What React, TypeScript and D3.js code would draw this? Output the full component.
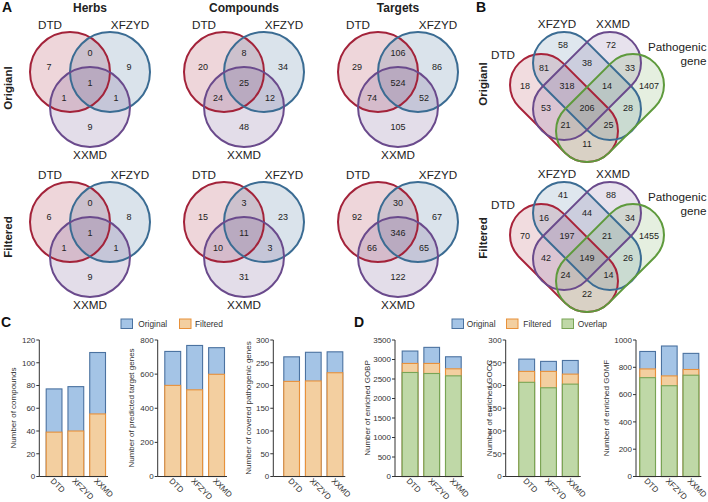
import React from "react";
import * as d3 from "d3";

const FONT = "'Liberation Sans', Arial, Helvetica, sans-serif";

// ---------- DATA ----------
const setNames3 = ["DTD", "XFZYD", "XXMD"];
const panelTitles = ["Herbs", "Compounds", "Targets"];
const rowLabels = ["Origianl", "Filtered"];
// region order: DTD only, DTD∩XFZYD, XFZYD only, all three, DTD∩XXMD, XFZYD∩XXMD, XXMD only
const herbsOriginal = [7, 0, 9, 1, 1, 1, 9];
const herbsFiltered = [6, 0, 8, 1, 1, 1, 9];
const compoundsOriginal = [20, 8, 34, 25, 24, 12, 48];
const compoundsFiltered = [15, 3, 23, 11, 10, 3, 31];
const targetsOriginal = [29, 106, 86, 524, 74, 52, 105];
const targetsFiltered = [92, 30, 67, 346, 66, 65, 122];

const setNames4 = ["DTD", "XFZYD", "XXMD", "Pathogenic gene"];
// region order: A, B, C, D, AB, BC, CD, ABC, BCD, AC, ABCD, BD, ACD, ABD, AD
const quadOriginal = [18, 58, 72, 1407, 81, 38, 33, 318, 14, 53, 206, 28, 21, 25, 11];
const quadFiltered = [70, 41, 88, 1455, 16, 44, 34, 197, 21, 42, 149, 26, 24, 14, 22];

const categories = ["DTD", "XFZYD", "XXMD"];
const compoundsOrig = [77, 79, 109];
const compoundsFilt = [39, 40, 55];
const targetGenesOrig = [733, 768, 755];
const targetGenesFilt = [534, 508, 599];
const pathoOrig = [263, 273, 274];
const pathoFilt = [209, 210, 228];
const gobpOrig = [3217, 3311, 3070];
const gobpFilt = [2899, 2899, 2761];
const gobpOverlap = [2667, 2641, 2581];
const goccOrig = [258, 253, 255];
const goccFilt = [231, 231, 225];
const goccOverlap = [207, 195, 203];
const gomfOrig = [916, 956, 902];
const gomfFilt = [788, 737, 784];
const gomfOverlap = [724, 665, 742];
const legendC = ["Original", "Filtered"];
const legendD = ["Original", "Filtered", "Overlap"];

// ---------- STYLE ----------
const vennStroke3 = ["#a3233a", "#3b6c93", "#6a4a8c"];
const vennStroke4 = ["#a8233a", "#3b6c93", "#6a4a8c", "#5e9a3c"];
const barStyle: Record<string, { fill: string; stroke: string }> = {
  Original: { fill: "#a4c4e6", stroke: "#4b72a0" },
  Filtered: { fill: "#f3cfa0", stroke: "#e8913a" },
  Overlap: { fill: "#bfd8a7", stroke: "#78a455" },
};
const TXT = "#222";

// ---------- 3-SET VENN ----------
const circleOffsets = [
  [-20, 0],
  [20, 0],
  [0, 35],
];
const regionOffsets3 = [
  [-41, -5],
  [0, -19],
  [39, -5],
  [0, 11],
  [-26, 26],
  [26, 26],
  [0, 55],
];

function Venn3({ cx, cy, values }: { cx: number; cy: number; values: number[] }) {
  return (
    <g>
      {circleOffsets.map((o, i) => (
        <circle
          key={"f" + i}
          cx={cx + o[0]}
          cy={cy + o[1]}
          r={40}
          fill={vennStroke3[i]}
          fillOpacity={0.19}
          stroke="none"
        />
      ))}
      {circleOffsets.map((o, i) => (
        <circle
          key={"s" + i}
          cx={cx + o[0]}
          cy={cy + o[1]}
          r={40}
          fill="none"
          stroke={vennStroke3[i]}
          strokeWidth={2}
        />
      ))}
      {values.map((v, i) => (
        <text
          key={"v" + i}
          x={cx + regionOffsets3[i][0]}
          y={cy + regionOffsets3[i][1]}
          dy="0.35em"
          textAnchor="middle"
          fontSize={9}
          fill={TXT}
        >
          {v}
        </text>
      ))}
      <text x={cx - 40} y={cy - 42.7} textAnchor="middle" fontSize={11.7} fill={TXT}>
        {setNames3[0]}
      </text>
      <text x={cx + 40} y={cy - 42.7} textAnchor="middle" fontSize={11.7} fill={TXT}>
        {setNames3[1]}
      </text>
      <text x={cx} y={cy + 87.3} textAnchor="middle" fontSize={11.7} fill={TXT}>
        {setNames3[2]}
      </text>
    </g>
  );
}

// ---------- 4-SET VENN (capsule shapes) ----------
const CAP_R = 31;
const CAP_L = 127;
const shapes4 = [
  { dx: -23, dy: 8, rot: 45 },
  { dx: 0, dy: -14, rot: 45 },
  { dx: 0, dy: -14, rot: -45 },
  { dx: 23, dy: 8, rot: -45 },
];
const regionOffsets4 = [
  [-62, -14],
  [-24, -55],
  [24, -55],
  [62, -14],
  [-43, -32],
  [0, -37],
  [43, -32],
  [-20, -14],
  [20, -14],
  [-41, 8],
  [0, 8],
  [41, 8],
  [-21.5, 25],
  [21.5, 25],
  [0, 44],
];

function Venn4({ cx, cy, values }: { cx: number; cy: number; values: number[] }) {
  return (
    <g>
      {shapes4.map((e, i) => {
        const x0 = cx + e.dx;
        const y0 = cy + e.dy;
        return (
          <rect
            key={"f" + i}
            x={x0 - CAP_L / 2}
            y={y0 - CAP_R}
            width={CAP_L}
            height={CAP_R * 2}
            rx={CAP_R}
            ry={CAP_R}
            transform={`rotate(${e.rot} ${x0} ${y0})`}
            fill={vennStroke4[i]}
            fillOpacity={0.16}
          />
        );
      })}
      {shapes4.map((e, i) => {
        const x0 = cx + e.dx;
        const y0 = cy + e.dy;
        return (
          <rect
            key={"s" + i}
            x={x0 - CAP_L / 2}
            y={y0 - CAP_R}
            width={CAP_L}
            height={CAP_R * 2}
            rx={CAP_R}
            ry={CAP_R}
            transform={`rotate(${e.rot} ${x0} ${y0})`}
            fill="none"
            stroke={vennStroke4[i]}
            strokeWidth={2}
          />
        );
      })}
      {values.map((v, i) => (
        <text
          key={"v" + i}
          x={cx + regionOffsets4[i][0]}
          y={cy + regionOffsets4[i][1]}
          dy="0.35em"
          textAnchor="middle"
          fontSize={9}
          fill={TXT}
        >
          {v}
        </text>
      ))}
      <text x={cx - 84} y={cy - 40.7} textAnchor="middle" fontSize={11.7} fill={TXT}>
        {setNames4[0]}
      </text>
      <text x={cx - 30} y={cy - 71.7} textAnchor="middle" fontSize={11.7} fill={TXT}>
        {setNames4[1]}
      </text>
      <text x={cx + 26} y={cy - 71.7} textAnchor="middle" fontSize={11.7} fill={TXT}>
        {setNames4[2]}
      </text>
      <text x={cx + 119.5} y={cy - 49} textAnchor="end" fontSize={11.7} fill={TXT}>
        {setNames4[3].split(" ")[0]}
      </text>
      <text x={cx + 119.5} y={cy - 35.5} textAnchor="end" fontSize={11.7} fill={TXT}>
        {setNames4[3].split(" ")[1]}
      </text>
    </g>
  );
}

// ---------- BAR CHARTS ----------
const PLOT_TOP = 340;
const PLOT_BOTTOM = 476.5;

type Series = { name: string; values: number[] };

function BarChart({
  axisX,
  barStart,
  barEnd,
  yMax,
  step,
  title,
  titleX,
  series,
}: {
  axisX: number;
  barStart: number;
  barEnd: number;
  yMax: number;
  step: number;
  title: string;
  titleX: number;
  series: Series[];
}) {
  const y = d3.scaleLinear().domain([0, yMax]).range([PLOT_BOTTOM, PLOT_TOP]);
  const x = d3.scaleBand<string>().domain(categories).range([barStart, barEnd]).paddingInner(0.23).paddingOuter(0);
  const ticks = d3.range(0, yMax + step / 2, step);
  const bw = x.bandwidth();
  return (
    <g fontFamily={FONT}>
      {series.map((s) =>
        s.values.map((v, i) => (
          <rect
            key={s.name + i}
            x={(x(categories[i]) as number) + 0.5}
            y={y(v)}
            width={bw - 1}
            height={PLOT_BOTTOM - y(v)}
            fill={barStyle[s.name].fill}
            stroke={barStyle[s.name].stroke}
            strokeWidth={1.1}
          />
        ))
      )}
      <line x1={axisX} x2={axisX} y1={PLOT_BOTTOM} y2={PLOT_TOP} stroke="#333" strokeWidth={1} />
      <line x1={axisX} x2={barEnd + 2} y1={PLOT_BOTTOM} y2={PLOT_BOTTOM} stroke="#333" strokeWidth={1} />
      {ticks.map((t) => (
        <g key={t}>
          <line x1={axisX - 3} x2={axisX} y1={y(t)} y2={y(t)} stroke="#333" strokeWidth={1} />
          <text x={axisX - 4} y={y(t)} dy="0.35em" textAnchor="end" fontSize={8} fill="#333">
            {t}
          </text>
        </g>
      ))}
      {categories.map((c) => {
        const cx = (x(c) as number) + bw / 2 - 4;
        const cy = PLOT_BOTTOM + 5;
        return (
          <text key={c} x={cx} y={cy} transform={`rotate(45 ${cx} ${cy})`} fontSize={8} fill="#333">
            {c}
          </text>
        );
      })}
      <text
        x={titleX}
        y={408}
        transform={`rotate(-90 ${titleX} 408)`}
        textAnchor="middle"
        fontSize={8}
        fill="#333"
      >
        {title}
      </text>
    </g>
  );
}

function Legend({ items, boxX, textX }: { items: string[]; boxX: number[]; textX: number[] }) {
  return (
    <g>
      {items.map((it, i) => (
        <g key={it}>
          <rect
            x={boxX[i]}
            y={319}
            width={11.5}
            height={9.5}
            fill={barStyle[it].fill}
            stroke={barStyle[it].stroke}
            strokeWidth={1}
          />
          <text x={textX[i]} y={326.8} fontSize={8.4} fill="#333">
            {it}
          </text>
        </g>
      ))}
    </g>
  );
}

export default function App() {
  const panelCx = [90, 244, 398];
  const vennRows = [
    [herbsOriginal, compoundsOriginal, targetsOriginal],
    [herbsFiltered, compoundsFiltered, targetsFiltered],
  ];
  return (
    <svg
      width={708}
      height={502}
      viewBox="0 0 708 502"
      style={{ position: "absolute", left: 0, top: 0, background: "#fff" }}
      fontFamily={FONT}
    >
      <rect x={0} y={0} width={708} height={502} fill="#fff" />
      {/* Panel letters */}
      <text x={2} y={12} fontSize={14} fontWeight="bold" fill="#111">A</text>
      <text x={476} y={12} fontSize={14} fontWeight="bold" fill="#111">B</text>
      <text x={1} y={327} fontSize={14} fontWeight="bold" fill="#111">C</text>
      <text x={354} y={327} fontSize={14} fontWeight="bold" fill="#111">D</text>

      {/* Panel A titles */}
      {panelTitles.map((t, i) => (
        <text key={t} x={panelCx[i]} y={11.7} textAnchor="middle" fontSize={12} fontWeight="bold" fill={TXT}>
          {t}
        </text>
      ))}
      {/* Row labels */}
      {rowLabels.map((r, i) => (
        <g key={r}>
          <text
            x={11.5}
            y={88 + i * 149}
            transform={`rotate(-90 11.5 ${88 + i * 149})`}
            textAnchor="middle"
            fontSize={11.5}
            fontWeight="bold"
            fill={TXT}
          >
            {r}
          </text>
          <text
            x={486.5}
            y={84 + i * 154}
            transform={`rotate(-90 486.5 ${84 + i * 154})`}
            textAnchor="middle"
            fontSize={11.5}
            fontWeight="bold"
            fill={TXT}
          >
            {r}
          </text>
        </g>
      ))}

      {vennRows.map((row, ri) =>
        row.map((vals, pi) => <Venn3 key={ri + "-" + pi} cx={panelCx[pi]} cy={72 + ri * 150} values={vals} />)
      )}

      <Venn4 cx={587} cy={100} values={quadOriginal} />
      <Venn4 cx={587} cy={250} values={quadFiltered} />

      {/* Panel C */}
      <Legend items={legendC} boxX={[121, 179.5]} textX={[138.3, 195]} />
      <BarChart
        axisX={39.3}
        barStart={45.7}
        barEnd={106}
        yMax={120}
        step={20}
        title="Number of compounds"
        titleX={16}
        series={[
          { name: "Original", values: compoundsOrig },
          { name: "Filtered", values: compoundsFilt },
        ]}
      />
      <BarChart
        axisX={157.7}
        barStart={164.3}
        barEnd={225}
        yMax={800}
        step={200}
        title="Number of predicted target genes"
        titleX={134}
        series={[
          { name: "Original", values: targetGenesOrig },
          { name: "Filtered", values: targetGenesFilt },
        ]}
      />
      <BarChart
        axisX={273.3}
        barStart={283.3}
        barEnd={343.3}
        yMax={300}
        step={50}
        title="Number of covered pathogenic genes"
        titleX={251}
        series={[
          { name: "Original", values: pathoOrig },
          { name: "Filtered", values: pathoFilt },
        ]}
      />

      {/* Panel D */}
      <Legend items={legendD} boxX={[452, 506.5, 562]} textX={[466.7, 523.3, 577.7]} />
      <BarChart
        axisX={395}
        barStart={401.7}
        barEnd={461.7}
        yMax={3500}
        step={500}
        title="Number of enriched GOBP"
        titleX={369.5}
        series={[
          { name: "Original", values: gobpOrig },
          { name: "Filtered", values: gobpFilt },
          { name: "Overlap", values: gobpOverlap },
        ]}
      />
      <BarChart
        axisX={505.7}
        barStart={518.3}
        barEnd={578.7}
        yMax={300}
        step={50}
        title="Number of enriched GOCC"
        titleX={491.5}
        series={[
          { name: "Original", values: goccOrig },
          { name: "Filtered", values: goccFilt },
          { name: "Overlap", values: goccOverlap },
        ]}
      />
      <BarChart
        axisX={636}
        barStart={639.3}
        barEnd={699.3}
        yMax={1000}
        step={200}
        title="Number of enriched GOMF"
        titleX={609}
        series={[
          { name: "Original", values: gomfOrig },
          { name: "Filtered", values: gomfFilt },
          { name: "Overlap", values: gomfOverlap },
        ]}
      />
    </svg>
  );
}
